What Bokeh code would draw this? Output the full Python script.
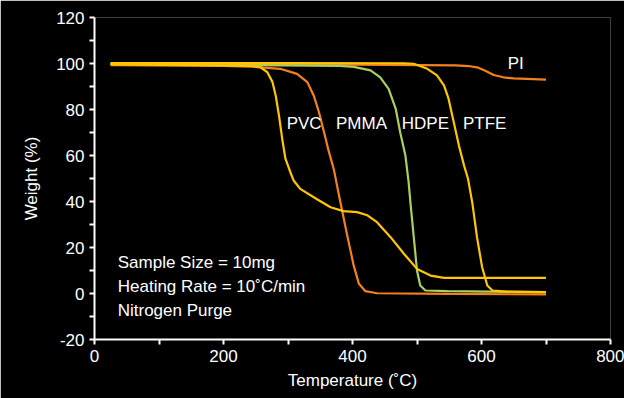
from bokeh.plotting import figure
from bokeh.models import Range1d, FixedTicker
from bokeh.core.properties import value
from bokeh.embed import file_html
from bokeh.resources import INLINE

# Data (temperature in °C, weight in %)
pvc_t = [25, 150, 245, 257, 268, 276, 281, 286, 291, 296, 304, 309, 319, 345, 366, 386, 407, 423, 438, 459, 480, 500, 521, 542, 600, 700]
pvc_w = [99.6, 99.3, 99.0, 98.4, 96.2, 91.9, 86.0, 77.4, 67.3, 58.6, 52.5, 49.0, 45.5, 41.0, 37.5, 35.8, 35.4, 34.0, 31.0, 24.5, 17.2, 10.7, 7.8, 6.8, 6.8, 6.8]

pmma_t = [25, 200, 242, 288, 314, 330, 340, 348, 356, 363, 371, 381, 392, 402, 410, 420, 438, 550, 700]
pmma_w = [99.3, 99.0, 98.6, 97.7, 95.5, 91.9, 86.0, 78.8, 70.0, 62.0, 54.0, 40.0, 25.0, 12.0, 4.2, 1.0, 0.1, -0.2, -0.4]

hdpe_t = [25, 200, 380, 402, 428, 443, 456, 467, 474, 482, 487, 490, 495, 500, 505, 513, 547, 700]
hdpe_w = [99.8, 99.4, 99.0, 98.5, 97.0, 94.0, 89.0, 80.3, 70.0, 60.0, 48.4, 39.0, 24.5, 10.0, 3.5, 1.3, 1.0, 0.6]

ptfe_t = [25, 300, 480, 495, 516, 531, 542, 549, 557, 565, 573, 579, 586, 593, 601, 609, 617, 640, 700]
ptfe_w = [100.2, 100.2, 100.1, 99.9, 97.7, 94.8, 90.4, 84.6, 74.5, 64.3, 55.6, 50.0, 39.0, 24.5, 11.4, 3.5, 1.3, 0.8, 0.6]

pi_t = [25, 400, 560, 580, 595, 605, 619, 634, 650, 700]
pi_w = [99.8, 99.5, 99.2, 98.9, 98.2, 97.0, 95.0, 94.0, 93.5, 93.0]

label_names = ["PVC", "PMMA", "HDPE", "PTFE", "PI"]
label_x = [325, 414, 513, 605, 653]
label_y = [74, 74, 74, 74, 100]

note_lines = ["Sample Size = 10mg", "Heating Rate = 10˚C/min", "Nitrogen Purge"]
note_x = [36, 36, 36]
note_y = [13.5, 3.0, -7.4]

x_ticks = [0, 200, 400, 600, 800]
y_ticks = [-20, 0, 20, 40, 60, 80, 100, 120]

FONT = "Liberation Sans"

p = figure(width=624, height=398, output_backend="svg", toolbar_location=None,
           x_range=Range1d(0, 800), y_range=Range1d(-20, 120),
           min_border_left=94, min_border_right=14, min_border_top=17, min_border_bottom=59)
p.background_fill_color = "black"
p.border_fill_color = "black"
p.outline_line_color = None
p.xgrid.visible = False
p.ygrid.visible = False

for ax in (p.xaxis[0], p.yaxis[0]):
    ax.axis_line_color = "white"
    ax.axis_line_width = 2
    ax.major_tick_line_color = "white"
    ax.minor_tick_line_color = "white"
    ax.major_tick_line_width = 2
    ax.minor_tick_line_width = 2
    ax.major_tick_out = 5
    ax.major_tick_in = 0
    ax.minor_tick_out = 5
    ax.minor_tick_in = 0
    ax.major_label_text_color = "white"
    ax.major_label_text_font = FONT
    ax.major_label_text_font_size = "17px"
    ax.major_label_standoff = 5
    ax.axis_label_text_color = "white"
    ax.axis_label_text_font = FONT
    ax.axis_label_text_font_size = "17px"
    ax.axis_label_text_font_style = "normal"

p.xaxis.ticker = FixedTicker(ticks=x_ticks, minor_ticks=[100, 300, 500, 700])
p.yaxis.ticker = FixedTicker(ticks=y_ticks, minor_ticks=[-10, 10, 30, 50, 70, 90, 110])
p.yaxis.major_label_overrides = {-20: "-20"}
p.xaxis.axis_label = "Temperature (˚C)"
p.yaxis.axis_label = "Weight (%)"
p.xaxis.axis_label_standoff = 6
p.yaxis.axis_label_standoff = 12

ORANGE = "#F3801F"
YELLOW = "#FFC600"
GREEN = "#A9D05E"

p.line(pi_t, pi_w, line_color=ORANGE, line_width=2.2)
p.line(hdpe_t, hdpe_w, line_color=GREEN, line_width=2.2)
p.line(pmma_t, pmma_w, line_color=ORANGE, line_width=2.2)
p.line(pvc_t, pvc_w, line_color=YELLOW, line_width=2.2)
p.line(ptfe_t, ptfe_w, line_color=YELLOW, line_width=2.2)

p.text(x=label_x, y=label_y, text=label_names, text_color="white",
       text_font=value(FONT), text_font_size="17px",
       text_align="center", text_baseline="middle")
p.text(x=note_x, y=note_y, text=note_lines, text_color="white",
       text_font=value(FONT), text_font_size="17px",
       text_align="left", text_baseline="middle")

open("out.html", "w").write(file_html(p, INLINE))
